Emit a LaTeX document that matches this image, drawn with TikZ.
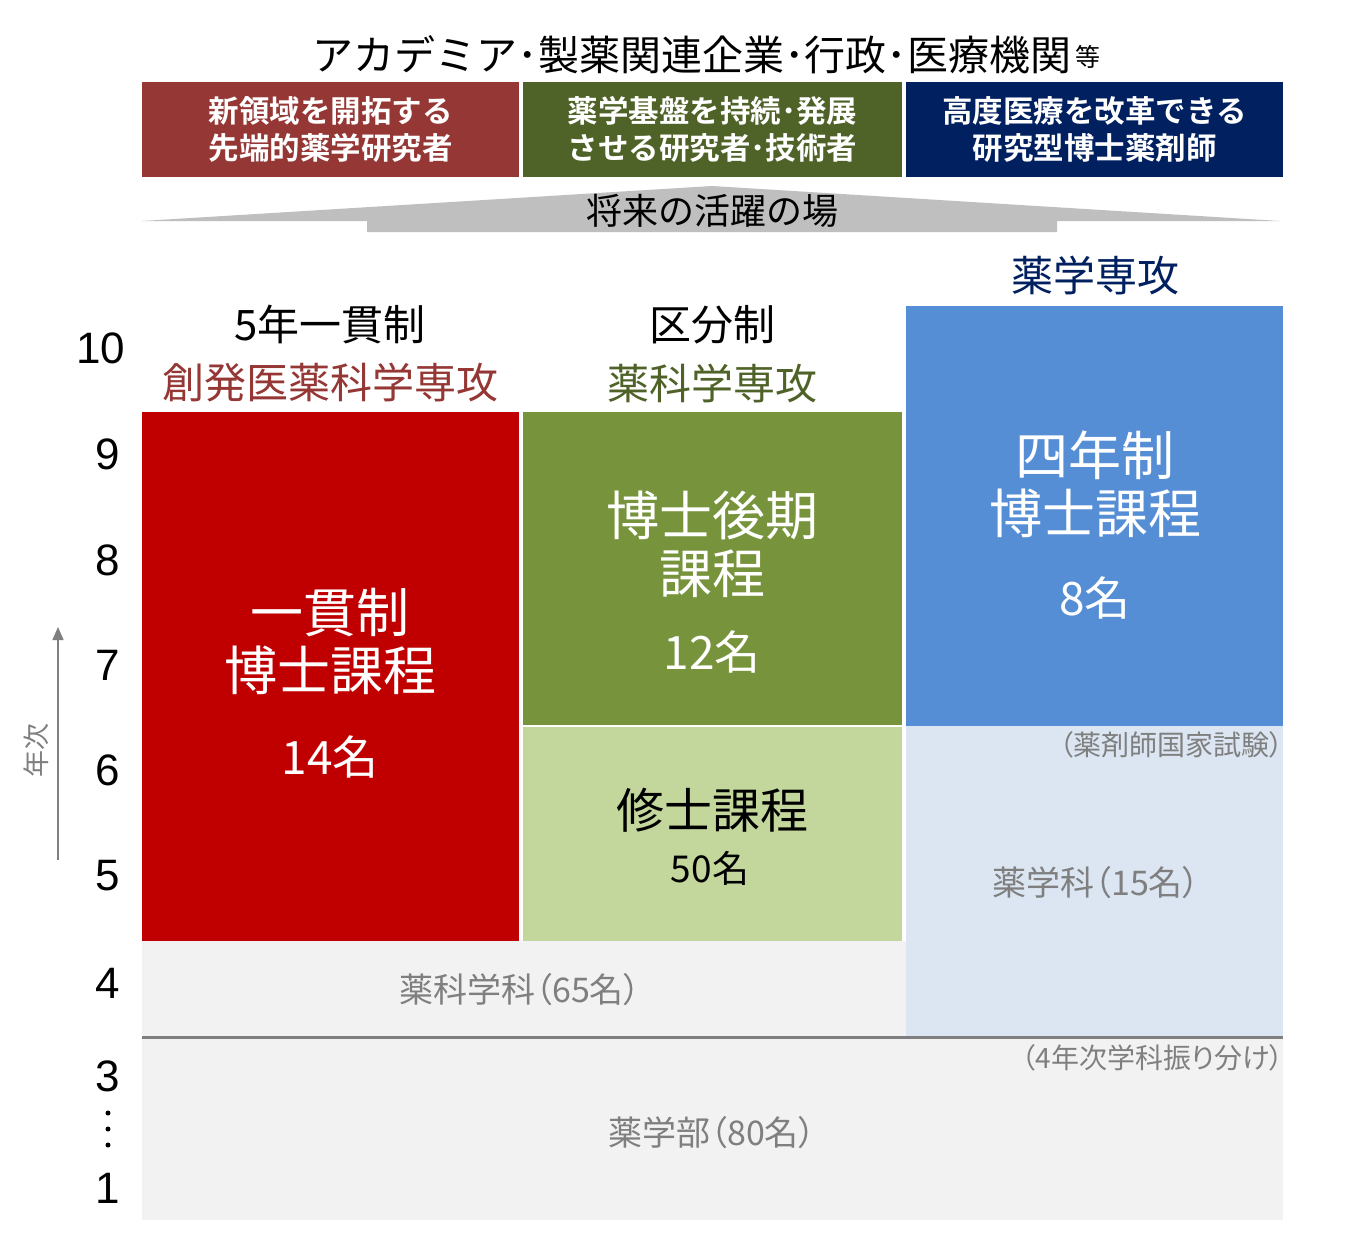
\documentclass[tikz,border=0pt]{standalone}
\usepackage{fontspec}
\setmainfont{Noto Sans CJK JP}[BoldFont={Noto Sans CJK JP Bold}]
\newfontfamily\cjkp{Noto Sans CJK JP}[RawFeature=+palt]
\newfontfamily\arial{Liberation Sans}
\usetikzlibrary{arrows.meta}
\definecolor{cRedD}{HTML}{953735}
\definecolor{cOliveD}{HTML}{4F6228}
\definecolor{cNavy}{HTML}{002060}
\definecolor{cBlue}{HTML}{558ED5}
\definecolor{cBlueL}{HTML}{DCE6F2}
\definecolor{cRed}{HTML}{C00000}
\definecolor{cGreen}{HTML}{77933C}
\definecolor{cGreenL}{HTML}{C3D69B}
\definecolor{cGrayL}{HTML}{F2F2F2}
\definecolor{cGrayT}{HTML}{7F7F7F}
\definecolor{cArrow}{HTML}{BFBFBF}
\newcommand{\fs}[2]{\fontsize{#1pt}{#2pt}\selectfont}
\begin{document}
\begin{tikzpicture}[x=1pt,y=-1pt,
  lbl/.style={inner sep=0pt,align=center},
  topbox/.style={lbl,text=white,font=\fs{30.5}{37}\bfseries},
  blocktxt/.style={lbl,text=white,font=\fs{53}{58}},
  heading/.style={lbl,font=\fs{42}{42}},
  yearnum/.style={inner sep=0pt,font=\arial\fs{44}{44}},
  graytxt/.style={inner sep=0pt,text=cGrayT}]
\useasboundingbox[fill=white] (0,0) rectangle (1350,1250);
% top boxes
\fill[cRedD] (142,82) rectangle (519,177);
\fill[cOliveD] (523,82) rectangle (902,177);
\fill[cNavy] (906,82) rectangle (1283,177);
\node[topbox] (t1) at (330.5,129.5) {新領域を開拓する\\先端的薬学研究者};
\node[topbox] (t2) at (712.5,129.5) {薬学基盤を持続･発展\\させる研究者･技術者};
\node[topbox] (t3) at (1094.5,129.5) {高度医療を改革できる\\研究型博士薬剤師};
% title
\node[lbl,font=\fs{41}{41}] (title) at (692,55) {アカデミア･製薬関連企業･行政･医療機関};
\node[lbl,font=\fs{25}{25},anchor=west] (tra) at ([yshift=-2pt]title.east) {\,等};
% arrow
\fill[cArrow] (142,221) -- (712,186) -- (1280,221) -- (1057,221) -- (1057,232) -- (367,232) -- (367,221) -- cycle;
\node[lbl,font=\fs{36}{36}] (stage) at (712,211) {将来の活躍の場};
% main blocks
\fill[cGrayL] (142,1038) rectangle (1283,1220);
\fill[cGrayL] (142,941) rectangle (906,1036);
\fill[cBlueL] (906,726) rectangle (1283,1036);
\fill[cBlue] (906,306) rectangle (1283,726);
\fill[cRed] (142,412) rectangle (519,941);
\fill[cGreen] (523,412) rectangle (902,725);
\fill[cGreenL] (523,727) rectangle (902,941);
\draw[cGrayT,line width=3pt] (142,1037) -- (1283,1037);
% headings
\node[heading] (h1) at (330,325) {5年一貫制};
\node[heading,text=cRedD] (h1b) at (330,383) {創発医薬科学専攻};
\node[heading] (h2) at (712,325) {区分制};
\node[heading,text=cOliveD] (h2b) at (712,383) {薬科学専攻};
\node[heading,text=cNavy] (h3) at (1095,275) {薬学専攻};
% block texts
\node[blocktxt] (b1) at (330,641) {一貫制\\博士課程};
\node[lbl,font=\fs{46}{46},text=white] (b1n) at (330,757) {14名};
\node[blocktxt] (b2) at (712,544) {博士後期\\課程};
\node[lbl,font=\fs{46}{46},text=white] (b2n) at (712,652) {12名};
\node[blocktxt] (b3) at (1095,484) {四年制\\博士課程};
\node[lbl,font=\fs{46}{46},text=white] (b3n) at (1095,598) {8名};
\node[lbl,font=\fs{48}{48}] (b4) at (712,810) {修士課程};
\node[lbl,font=\fs{37}{37}] (b4n) at (710,868) {50名};
\node[graytxt,font=\cjkp\fs{28}{28},anchor=east] (exam) at (1284,745) {（薬剤師国家試験）};
\node[graytxt,font=\cjkp\fs{34}{34}] (ph) at (1096,883) {薬学科（15名）};
\node[graytxt,font=\cjkp\fs{34}{34}] (phs) at (520,990) {薬科学科（65名）};
\node[graytxt,font=\cjkp\fs{28}{28},anchor=east] (split) at (1284,1058) {（4年次学科振り分け）};
\node[graytxt,font=\cjkp\fs{34}{34}] (fac) at (712,1133) {薬学部（80名）};
% year numbers
\node[yearnum] (y10) at (101,348) {10};
\node[yearnum] (y9) at (108,454) {9};
\node[yearnum] (y8) at (108,560) {8};
\node[yearnum] (y7) at (108,665) {7};
\node[yearnum] (y6) at (108,770) {6};
\node[yearnum] (y5) at (108,876) {5};
\node[yearnum] (y4) at (108,983) {4};
\node[yearnum] (y3) at (108,1076) {3};
\node[yearnum] (y1) at (108,1188) {1};
\foreach \yy in {1113,1129,1145}{\fill (108,\yy) circle (2.5);}
% axis arrow
\coordinate (ax0) at (58,860);
\coordinate (ax1) at (58,627);
\draw[cGrayT,line width=1.5pt,-{Triangle[length=13pt,width=11pt]}] (ax0) -- (ax1);
\node[graytxt,font=\fs{27}{27},rotate=90] (yr) at (36,750) {年次};
\end{tikzpicture}
\end{document}
